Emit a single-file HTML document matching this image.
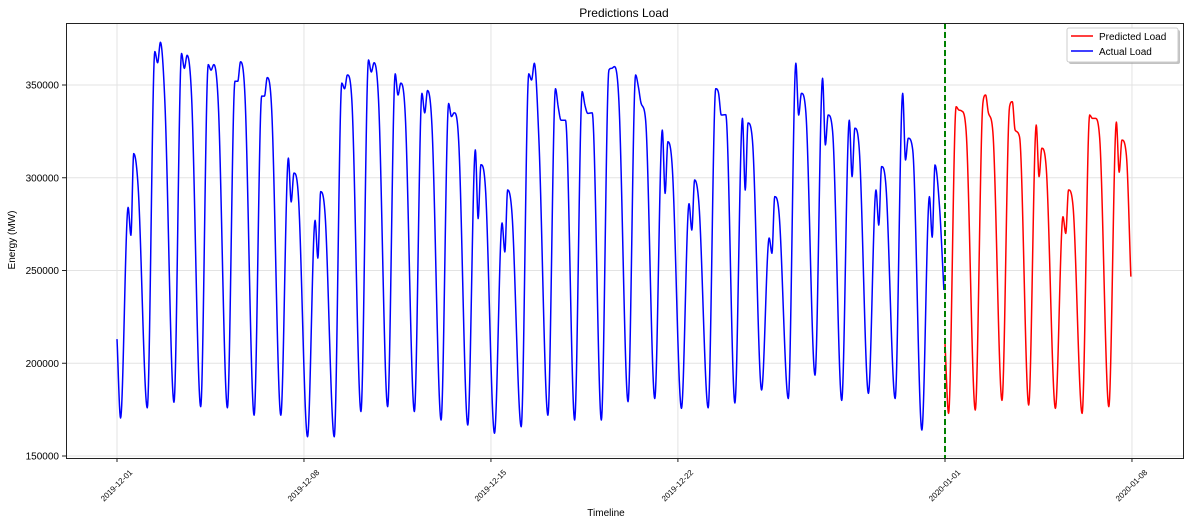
<!DOCTYPE html>
<html><head><meta charset="utf-8"><style>
html,body{margin:0;padding:0;background:#fff}
svg{display:block;font-family:"Liberation Sans","DejaVu Sans",sans-serif}
</style></head><body>
<svg id="chart" width="1189" height="525" viewBox="0 0 1189 525">
<text x="624" y="17" font-size="12" text-anchor="middle" fill="#000">Predictions Load</text>
<g id="grid"></g>
<g id="series"></g>
<line x1="945" y1="23" x2="945" y2="458" stroke="#008000" stroke-width="2" stroke-dasharray="6,3"/>
<rect x="66.5" y="23.5" width="1117" height="435" fill="none" stroke="#222" stroke-width="1"/>
<g id="axes"></g>
<text x="606" y="516" font-size="10" text-anchor="middle">Timeline</text>
<text x="15" y="240" font-size="10" text-anchor="middle" transform="rotate(-90 15 240)">Energy (MW)</text>
<g>
<rect x="1069" y="30" width="111" height="34" rx="2" fill="#999" opacity="0.6"/>
<rect x="1067" y="28" width="111" height="34" rx="2" fill="#fff" stroke="#ccc"/>
<g><line x1="1071" y1="36" x2="1093" y2="36" stroke="#f00" stroke-width="1.5"/><text x="1099" y="40" font-size="10">Predicted Load</text></g>
<g><line x1="1071" y1="51" x2="1093" y2="51" stroke="#00f" stroke-width="1.5"/><text x="1099" y="55" font-size="10">Actual Load</text></g>
</g>
</svg>
<script>
// values in thousands of MW; one entry per day
const actualStart = 213;
const actualMin = [170.5,176,179,176.6,176,172,172,160.4,160.4,174,176.6,174,169.4,166.7,162.3,165.8,172,169.4,169.4,179.3,181,175.7,176,178.6,185.6,181,193.6,180,183.8,181,164];
const actualP1 = [284,368,367,361,352,344,310.6,277,351,363.5,356,345.5,340,315,275.6,356,348,346.4,358,355.4,325.7,286,348,332,267.5,361.7,353.6,331,293.4,345.5,289.8];
const actualDip = [269,362,359,358,352,344,287,256.7,348,357,344.6,335,333,278,260,352.7,338,339,359,349,291.6,271.8,345.7,293.4,259.3,333.8,317.7,300.6,274.5,309.6,268];
const actualP2 = [313,373,366,361,362.5,354,302.5,292.5,355.4,362,351,347,335,307,293.4,361.7,331,334.7,359.9,340,319.4,298.8,333.8,329.5,289.8,345.5,333.8,326.7,306,321.3,306.9];
const actualShoulder = [295,341,344,340,344,336.6,290,280,342,342,334,328,320,295,280,322,331,335,341,331,305,285,334,320,280,335,325,315,295,315,285];
const actualEnd = 239.5;
const predStart = 210.8;
const predMin = [173,174.8,180,177.5,175.7,173,176.6];
const predP1 = [338.3,340,338.3,328.4,279,333.8,330];
const predDip = [336.5,344.6,341,300.6,270,332,303];
const predP2 = [336,335,325.7,315.9,293.4,332,320.3];
const predShoulder = [325,324.8,322,305,285,321.3,312];
const predEnd = 246.7;
const yTicks = [150000,200000,250000,300000,350000];
const xTickLabels = ["2019-12-01","2019-12-08","2019-12-15","2019-12-22","2020-01-01","2020-01-08"];
const xTickDays = [0,7,14,21,31,38];

const NS="http://www.w3.org/2000/svg";
const X0=117, PXH=828/744;
function xs(h){return X0+h*PXH;}
function ys(v){return 456-(v-150000)*371/200000;}
function mk(tag,attrs,parent){const e=document.createElementNS(NS,tag);for(const k in attrs)e.setAttribute(k,attrs[k]);parent.appendChild(e);return e;}
const grid=document.getElementById('grid'), axes=document.getElementById('axes'), series=document.getElementById('series');

yTicks.forEach((t,i)=>{
  const y=ys(t);
  const gl=mk('line',{x1:66,x2:1183,y1:y,y2:y,stroke:'#e3e3e3','stroke-width':1},grid);
  
  
  const tk=mk('line',{x1:62,x2:66,y1:y,y2:y,stroke:'#222'},axes);
  
  
  const tx=mk('text',{x:59,y:y+3.5,'font-size':10,'text-anchor':'end'},axes);
  tx.textContent=String(t);
  
  
});
xTickDays.forEach((d,i)=>{
  const x=xs(d*24);
  const gl=mk('line',{x1:x,x2:x,y1:23,y2:458,stroke:'#e3e3e3','stroke-width':1},grid);
  
  
  const tk=mk('line',{x1:x,x2:x,y1:458,y2:462,stroke:'#222'},axes);
  
  
  const tx=mk('text',{x:x,y:488,'font-size':8,'text-anchor':'middle',transform:`rotate(-45 ${x} 486)`},axes);
  tx.textContent=xTickLabels[i];
  
  
});

function keypoints(start,mins,p1,dip,p2,sh,end){
  const pts=[[0,start]];
  for(let d=0;d<mins.length;d++){
    const b=d*24;
    pts.push([b+3.2,mins[d]],[b+10,p1[d]],[b+12.5,dip[d]],[b+15,p2[d]],[b+19,sh[d]]);
  }
  pts.push([mins.length*24-1,end]);
  return pts;
}
function monotonePath(pts,offsetH){
  const n=pts.length, dx=[], m=[], s=[];
  for(let i=0;i<n-1;i++){dx[i]=pts[i+1][0]-pts[i][0];s[i]=(pts[i+1][1]-pts[i][1])/dx[i];}
  m[0]=s[0];m[n-1]=s[n-2];
  for(let i=1;i<n-1;i++){m[i]=(s[i-1]*s[i]<=0)?0:(s[i-1]+s[i])/2;}
  for(let i=0;i<n-1;i++){
    if(s[i]===0){m[i]=0;m[i+1]=0;continue;}
    const a=m[i]/s[i],b=m[i+1]/s[i],h=a*a+b*b;
    if(h>9){const t=3/Math.sqrt(h);m[i]=t*a*s[i];m[i+1]=t*b*s[i];}
  }
  let d='';
  for(let i=0;i<n-1;i++){
    const steps=Math.max(4,Math.round(dx[i]*3));
    for(let k=(i===0?0:1);k<=steps;k++){
      const t=k/steps,hh=dx[i];
      const h00=2*t*t*t-3*t*t+1,h10=t*t*t-2*t*t+t,h01=-2*t*t*t+3*t*t,h11=t*t*t-t*t;
      const v=h00*pts[i][1]+h10*hh*m[i]+h01*pts[i+1][1]+h11*hh*m[i+1];
      const x=xs(offsetH+pts[i][0]+t*hh), y=ys(v*1000);
      d+=(d?'L':'M')+x.toFixed(2)+','+y.toFixed(2);
    }
  }
  return d;
}
const actualPts=keypoints(actualStart,actualMin,actualP1,actualDip,actualP2,actualShoulder,actualEnd);
const predPts=keypoints(predStart,predMin,predP1,predDip,predP2,predShoulder,predEnd);
const pa=mk('path',{d:monotonePath(actualPts,0),fill:'none',stroke:'#0000ff','stroke-width':1.5,'stroke-linejoin':'round'},series);


const pp=mk('path',{d:monotonePath(predPts,31*24),fill:'none',stroke:'#ff0000','stroke-width':1.5,'stroke-linejoin':'round'},series);


</script>
</body></html>
